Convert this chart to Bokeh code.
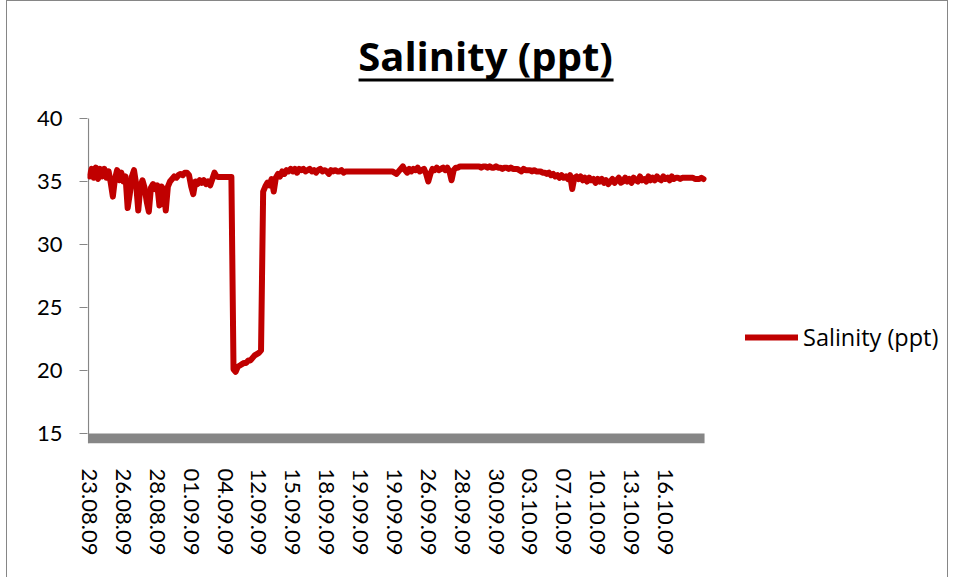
from bokeh.plotting import figure
from bokeh.models import Range1d, Legend, LegendItem, Label, FixedTicker
from bokeh.embed import file_html
from bokeh.resources import INLINE

# ---------------- data ----------------
title_text = "Salinity (ppt)"
series_name = "Salinity (ppt)"

date_labels = ["23.08.09", "26.08.09", "28.08.09", "01.09.09", "04.09.09", "12.09.09",
               "15.09.09", "18.09.09", "19.09.09", "19.09.09", "26.09.09", "28.09.09",
               "30.09.09", "03.10.09", "07.10.09", "10.10.09", "13.10.09", "16.10.09"]
points_per_label = 16

salinity = [
    35.4, 36.0, 35.3, 36.1, 35.2, 36.0, 35.4, 36.0, 35.3, 35.8,
    34.9, 33.8, 35.2, 35.9, 35.1, 35.7, 35.0, 35.4, 32.9, 34.0,
    35.4, 35.9, 34.8, 32.7, 34.6, 35.1, 34.5, 33.4, 32.6, 34.5,
    34.8, 34.4, 34.7, 33.1, 34.6, 34.3, 32.7, 34.6, 35.0, 35.2,
    35.4, 35.3, 35.5, 35.6, 35.5, 35.7, 35.7, 35.5, 34.6, 34.0,
    35.0, 34.8, 35.1, 34.9, 35.1, 34.8, 35.0, 34.7, 35.2, 35.7,
    35.4, 35.35, 35.35, 35.35, 35.35, 35.35, 35.35, 35.35,
    20.1, 19.9, 20.3, 20.4, 20.5, 20.6, 20.6, 20.8, 20.8, 21.0,
    21.2, 21.3, 21.4, 21.6,
    34.2, 34.6, 34.9, 34.7, 35.2, 34.2, 35.3, 35.6, 35.4, 35.8,
    35.6, 35.9, 35.8, 36.0, 35.8, 36.0, 35.7, 36.0, 35.9,
    36.0, 35.8, 35.9, 36.0, 35.8, 35.9, 35.7, 35.9, 36.0, 35.8,
    35.9, 35.8, 35.6, 35.9, 35.8, 35.9, 35.8, 35.8, 35.9, 35.7,
    35.8, 35.8, 35.8, 35.8, 35.8, 35.8, 35.8, 35.8, 35.8, 35.8,
    35.8, 35.8, 35.8, 35.8, 35.8, 35.8,
    35.8, 35.8, 35.8, 35.8, 35.8, 35.8, 35.8, 35.7, 35.6, 35.8, 36.0,
    36.2,
    35.9, 35.7, 36.0, 35.8, 36.0, 35.9, 36.1, 35.8, 35.9, 36.0, 35.6,
    35.0,
    35.6, 36.0, 35.9, 36.1, 35.9, 36.0, 36.1, 35.9, 36.1, 35.8,
    35.1,
    35.9, 36.1, 36.1, 36.2, 36.2, 36.2, 36.2, 36.2, 36.2, 36.2,
    36.2, 36.2, 36.2, 36.1, 36.2, 36.2, 36.1, 36.2, 36.1, 36.1,
    36.2, 36.1, 36.1, 36.0, 36.1, 36.1, 36.0, 36.1, 36.0,
    36.0, 36.0, 35.9, 35.8, 36.0, 35.9, 35.9, 35.9, 35.8, 35.9,
    35.8, 35.8, 35.8, 35.7, 35.7, 35.6, 35.7, 35.5, 35.6, 35.4,
    35.5, 35.3, 35.5, 35.3, 35.4, 35.2, 35.5, 34.4, 35.3, 35.4,
    35.2, 35.4, 35.1, 35.3, 35.0, 35.3, 35.1, 35.2, 34.9, 35.2,
    35.0, 35.2, 34.9, 35.1, 34.8, 35.0, 35.2, 34.9, 35.1, 35.3,
    34.9, 35.0, 35.3, 35.0, 35.2, 34.9, 35.3, 35.1, 35.0, 35.4,
    35.1, 35.2, 35.0, 35.4, 35.1, 35.3, 35.1, 35.4, 35.2, 35.1,
    35.4, 35.2, 35.3, 35.1, 35.4, 35.2, 35.3, 35.3, 35.2, 35.3,
    35.3, 35.3, 35.3, 35.3, 35.3, 35.2, 35.2, 35.2, 35.3, 35.2,
]
index = list(range(len(salinity)))

y_ticks = [15, 20, 25, 30, 35, 40]

# ---------------- geometry ----------------
px_per_y = 12.6
px_per_x = 2.117
canvas_w, canvas_h = 942, 577
frame_left_px = 80
frame_bottom_px = 135
top_pad_px = 117

y_max_tick = max(y_ticks)
y_min = min(y_ticks) - 10 / px_per_y          # thick floor bar below 15
y_top = y_max_tick + top_pad_px / px_per_y
x_first = -0.5
x_last = len(salinity) - 0.5
x_start = x_first - 1 / px_per_x
x_end = x_start + (canvas_w - frame_left_px) / px_per_x

p = figure(width=canvas_w, height=canvas_h, output_backend="svg", toolbar_location=None,
           x_range=Range1d(x_start, x_end), y_range=Range1d(y_min, y_top),
           min_border=0, min_border_left=frame_left_px, min_border_right=0,
           min_border_top=0, min_border_bottom=frame_bottom_px)
p.styles = {"border-left": "1px solid #868686", "border-top": "1px solid #868686",
            "border-right": "1px solid #868686", "margin-left": "6px"}
p.outline_line_color = None
p.xgrid.grid_line_color = None
p.ygrid.grid_line_color = None
p.background_fill_color = "white"
p.border_fill_color = "white"

# floor bar (Excel's thick category axis)
p.quad(left=[x_first], right=[x_last], bottom=[y_min], top=[min(y_ticks)],
       fill_color="#868686", line_color=None)
# value axis line
p.segment(x0=[x_first], y0=[y_min], x1=[x_first], y1=[y_max_tick],
          line_color="#868686", line_width=1.2)

line = p.line(index, salinity, line_color="#C00000", line_width=6,
              line_join="round", line_cap="round")

# y axis
p.yaxis.ticker = FixedTicker(ticks=y_ticks)
p.yaxis.axis_line_color = None
p.yaxis.major_tick_line_color = "#868686"
p.yaxis.major_tick_in = 0
p.yaxis.major_tick_out = 8
p.yaxis.minor_tick_line_color = None
p.yaxis.major_label_text_font = "Lato"
p.yaxis.major_label_text_font_size = "22px"
p.yaxis.major_label_text_color = "black"
p.yaxis.major_label_standoff = 17

# x axis (category labels every few points)
tick_idx = [i * points_per_label for i in range(len(date_labels))]
p.xaxis.ticker = FixedTicker(ticks=tick_idx)
p.xaxis.major_label_overrides = {t: lab for t, lab in zip(tick_idx, date_labels)}
p.xaxis.major_label_orientation = "vertical"
p.xaxis.axis_line_color = None
p.xaxis.major_tick_line_color = None
p.xaxis.minor_tick_line_color = None
p.xaxis.major_label_text_font = "Lato"
p.xaxis.major_label_text_font_size = "22px"
p.xaxis.major_label_text_color = "black"
p.xaxis.major_label_standoff = 19

# title (underlined, centred over the chart) -- placed in data space inside the frame
def px_to_x(px):
    return (px - 90) / px_per_x

def py_to_y(py):
    return y_max_tick + (118 - py) / px_per_y

p.add_layout(Label(x=px_to_x(486), y=py_to_y(55), text=title_text,
                   text_font="Open Sans", text_font_style="bold",
                   text_font_size="40px", text_align="center",
                   text_baseline="middle", text_color="black"))
p.segment(x0=[px_to_x(359)], y0=[py_to_y(79.5)], x1=[px_to_x(614)], y1=[py_to_y(79.5)],
          line_color="black", line_width=3)

# legend
legend = Legend(items=[LegendItem(label=series_name, renderers=[line])],
                location=(745 - 87, 443 - 353), padding=0, margin=0,
                border_line_color=None, background_fill_alpha=0,
                glyph_width=53, glyph_height=20, label_height=20,
                label_standoff=5, label_text_font="Open Sans",
                label_text_font_size="23.5px", label_text_color="black")
p.add_layout(legend)

open("out.html", "w").write(file_html(p, INLINE))
